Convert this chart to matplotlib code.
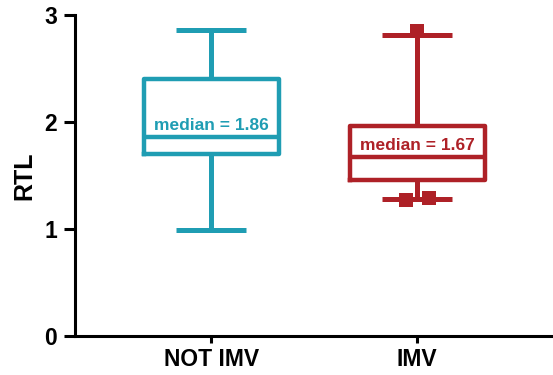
import matplotlib.pyplot as plt

plt.rcParams['font.family'] = ['Liberation Sans', 'DejaVu Sans']
plt.rcParams['font.weight'] = 'bold'

groups = ["NOT IMV", "IMV"]
colors = ["#1f9db3", "#ae2127"]

whislo = [0.99, 1.28]
q1 = [1.70, 1.46]
med = [1.86, 1.67]
q3 = [2.40, 1.96]
whishi = [2.86, 2.81]

# outliers of the IMV group only
imv_fliers = [2.85, 1.27, 1.29]
flier_shift = [0.0, -0.055, 0.06]

fig = plt.figure(figsize=(5.53, 3.75), dpi=100)
ax = fig.add_axes([0.136, 0.104, 0.864, 0.856])

stats = []
for i, g in enumerate(groups):
    stats.append(dict(label=g, whislo=whislo[i], q1=q1[i], med=med[i],
                      q3=q3[i], whishi=whishi[i], fliers=[]))

pos = [1, 2]
bp = ax.bxp(stats, positions=pos, widths=0.655, showfliers=False,
            patch_artist=False, capwidths=0.34)

for i, c in enumerate(colors):
    for key in ("boxes", "medians"):
        bp[key][i].set(color=c, linewidth=3.2)
    for j in (2 * i, 2 * i + 1):
        bp["whiskers"][j].set(color=c, linewidth=3.6, solid_capstyle="butt")
        bp["caps"][j].set(color=c, linewidth=3.6, solid_capstyle="butt")
    ax.annotate(f"median = {med[i]:.2f}", xy=(pos[i], med[i]),
                xytext=(0, 5), textcoords="offset points",
                ha="center", va="baseline", color=c,
                fontsize=12.5, fontweight="bold")

ax.plot([pos[1] + s for s in flier_shift], imv_fliers, linestyle="none",
        marker="s", markersize=9.5, color=colors[1], markeredgewidth=0)

ax.set_xlim(0.34, 2.66)
ax.set_ylim(0, 3)
ax.set_yticks([0, 1, 2, 3])
ax.set_xticks(pos)
ax.set_xticklabels(groups)
ax.set_ylabel("RTL", fontsize=18, fontweight="bold")
ax.yaxis.label.set(rotation_mode="default", ha="center", va="center")
ax.yaxis.set_label_coords(-0.107, 0.5)

for side in ("top", "right"):
    ax.spines[side].set_visible(False)
for side in ("left", "bottom"):
    ax.spines[side].set_linewidth(2.2)
ax.tick_params(axis="both", width=2.2, labelsize=16.5)
ax.tick_params(axis="y", length=8, pad=5)
ax.tick_params(axis="x", length=5, pad=4)

fig.savefig("out.png", dpi=100)
